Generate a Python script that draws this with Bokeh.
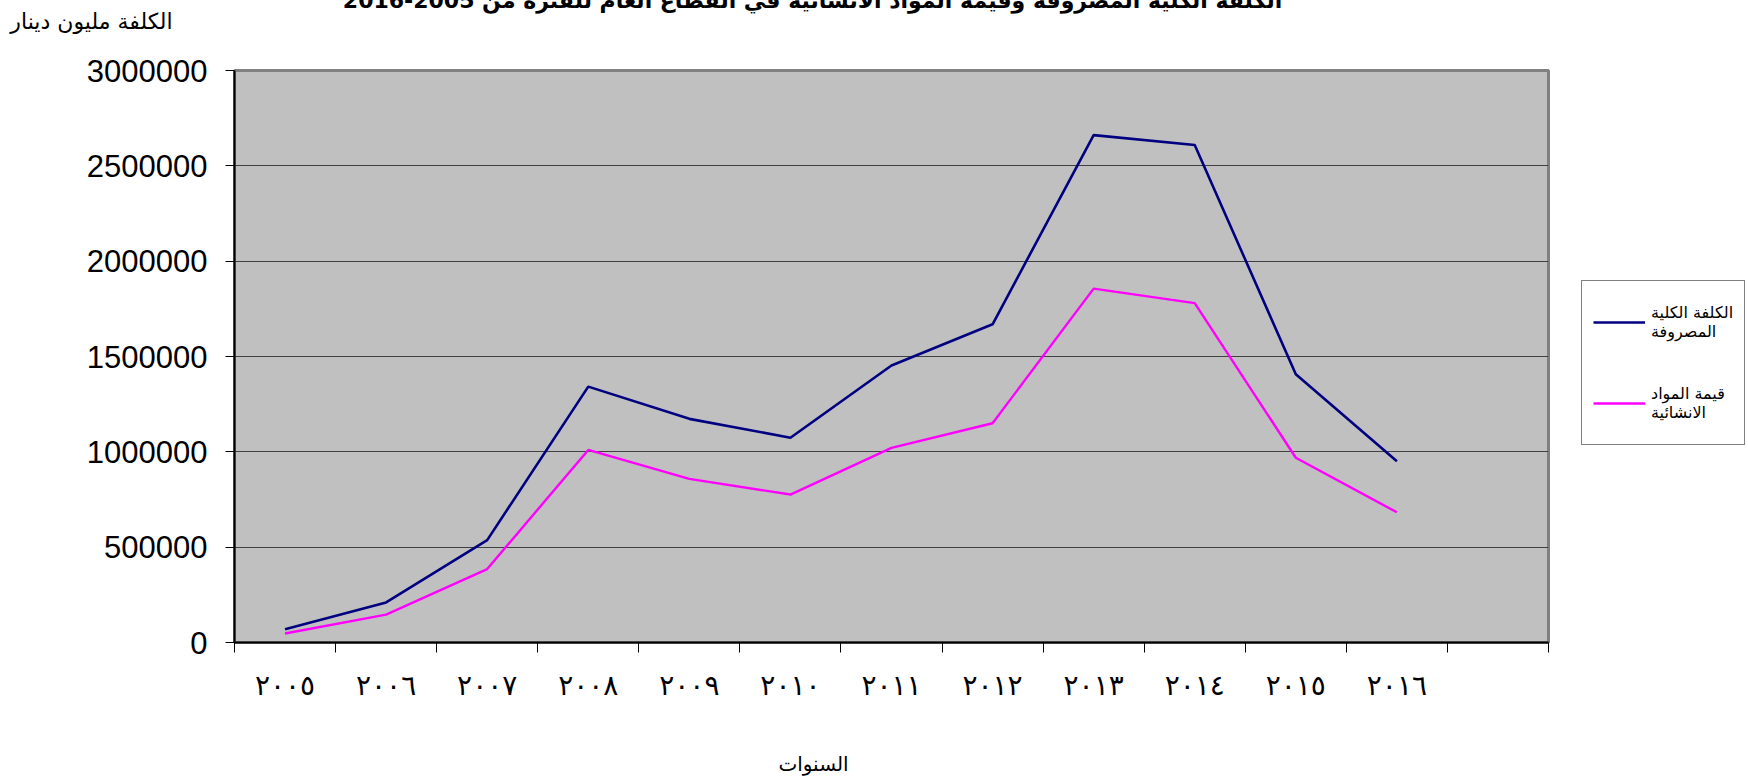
from bokeh.plotting import figure
from bokeh.models import (FixedTicker, BasicTickFormatter, Legend, LegendItem, Range1d, Label)
from bokeh.embed import file_html
from bokeh.resources import INLINE

# ---- data ----
years = ["٢٠٠٥", "٢٠٠٦", "٢٠٠٧", "٢٠٠٨", "٢٠٠٩", "٢٠١٠",
         "٢٠١١", "٢٠١٢", "٢٠١٣", "٢٠١٤", "٢٠١٥", "٢٠١٦"]
total_cost = [70000, 210000, 537000, 1342000, 1173000, 1074000,
              1453000, 1669000, 2661000, 2609000, 1407000, 951000]
materials = [47000, 146000, 385000, 1010000, 858000, 776000,
             1021000, 1150000, 1856000, 1780000, 969000, 683000]
y_ticks = [0, 500000, 1000000, 1500000, 2000000, 2500000, 3000000]
title_text = "الكلفة الكلية المصروفة وقيمة المواد الانشائية في القطاع العام للفترة من 2005-2016"
y_title = "الكلفة مليون دينار"
x_title = "السنوات"
series_names = ["الكلفة الكلية\nالمصروفة", "قيمة المواد\nالانشائية"]

n_slots = len(years) + 1
xs = list(range(len(years)))

p = figure(frame_width=1314, frame_height=572, output_backend="svg", toolbar_location=None,
           x_range=Range1d(-0.5, n_slots - 0.5), y_range=Range1d(0, 3000000),
           min_border_left=234, min_border_right=200, min_border_top=70,
           min_border_bottom=137)

p.background_fill_color = "#C0C0C0"
p.border_fill_color = "white"
p.outline_line_color = "#808080"
p.outline_line_width = 3

# lines
r1 = p.line(xs, total_cost, line_color="#000080", line_width=2.6)
r2 = p.line(xs, materials, line_color="#FF00FF", line_width=2.4)

# x axis
xa = p.xaxis[0]
xa.ticker = FixedTicker(ticks=xs, minor_ticks=[i - 0.5 for i in range(n_slots + 1)])
xa.major_label_overrides = {i: years[i] for i in xs}
xa.major_tick_line_color = None
xa.major_tick_out = 0
xa.major_tick_in = 0
xa.minor_tick_out = 10
xa.minor_tick_in = 0
xa.minor_tick_line_color = "black"
xa.minor_tick_line_width = 1
xa.axis_line_color = "black"
xa.axis_line_width = 2
xa.major_label_standoff = 16
xa.major_label_text_font = "DejaVu Sans"
xa.major_label_text_font_size = "28px"
xa.major_label_text_color = "black"

# y axis
ya = p.yaxis[0]
ya.ticker = FixedTicker(ticks=y_ticks)
ya.formatter = BasicTickFormatter(use_scientific=False)
ya.major_tick_out = 9
ya.major_tick_in = 0
ya.minor_tick_line_color = None
ya.major_tick_line_color = "black"
ya.axis_line_color = "black"
ya.axis_line_width = 2
ya.major_label_standoff = 18
ya.major_label_text_font = "Liberation Sans"
ya.major_label_text_font_size = "31px"
ya.major_label_text_color = "black"

p.xgrid.grid_line_color = None
p.ygrid.ticker = FixedTicker(ticks=y_ticks)
p.ygrid.grid_line_color = "#404040"
p.ygrid.grid_line_width = 1.2


def text_label(text, x, y, size, baseline, style="normal"):
    return Label(x=x, y=y, x_units="screen", y_units="screen", text=text,
                 text_align="center", text_baseline=baseline,
                 text_font="DejaVu Sans", text_font_size=size,
                 text_font_style=style, text_color="black")


p.add_layout(text_label(y_title, -143, 49, "22px", "middle"), "above")
p.add_layout(text_label(title_text, 578, 45, "22px", "alphabetic", "bold"), "above")
p.add_layout(text_label(x_title, 579, -35, "20px", "middle"), "below")

legend = Legend(items=[LegendItem(label=series_names[0], renderers=[r1]),
                       LegendItem(label=series_names[1], renderers=[r2])],
                location=(33, 197))
legend.border_line_color = "black"
legend.border_line_width = 1
legend.background_fill_color = "white"
legend.background_fill_alpha = 1
legend.label_text_font = "DejaVu Sans"
legend.label_text_font_size = "16px"
legend.label_text_line_height = 1.5
legend.label_text_color = "black"
legend.label_height = 60
legend.glyph_width = 52
legend.glyph_height = 20
legend.label_standoff = 6
legend.padding = 11
legend.spacing = 21
legend.margin = 0
p.add_layout(legend, "right")

open("out.html", "w").write(file_html(p, INLINE))
